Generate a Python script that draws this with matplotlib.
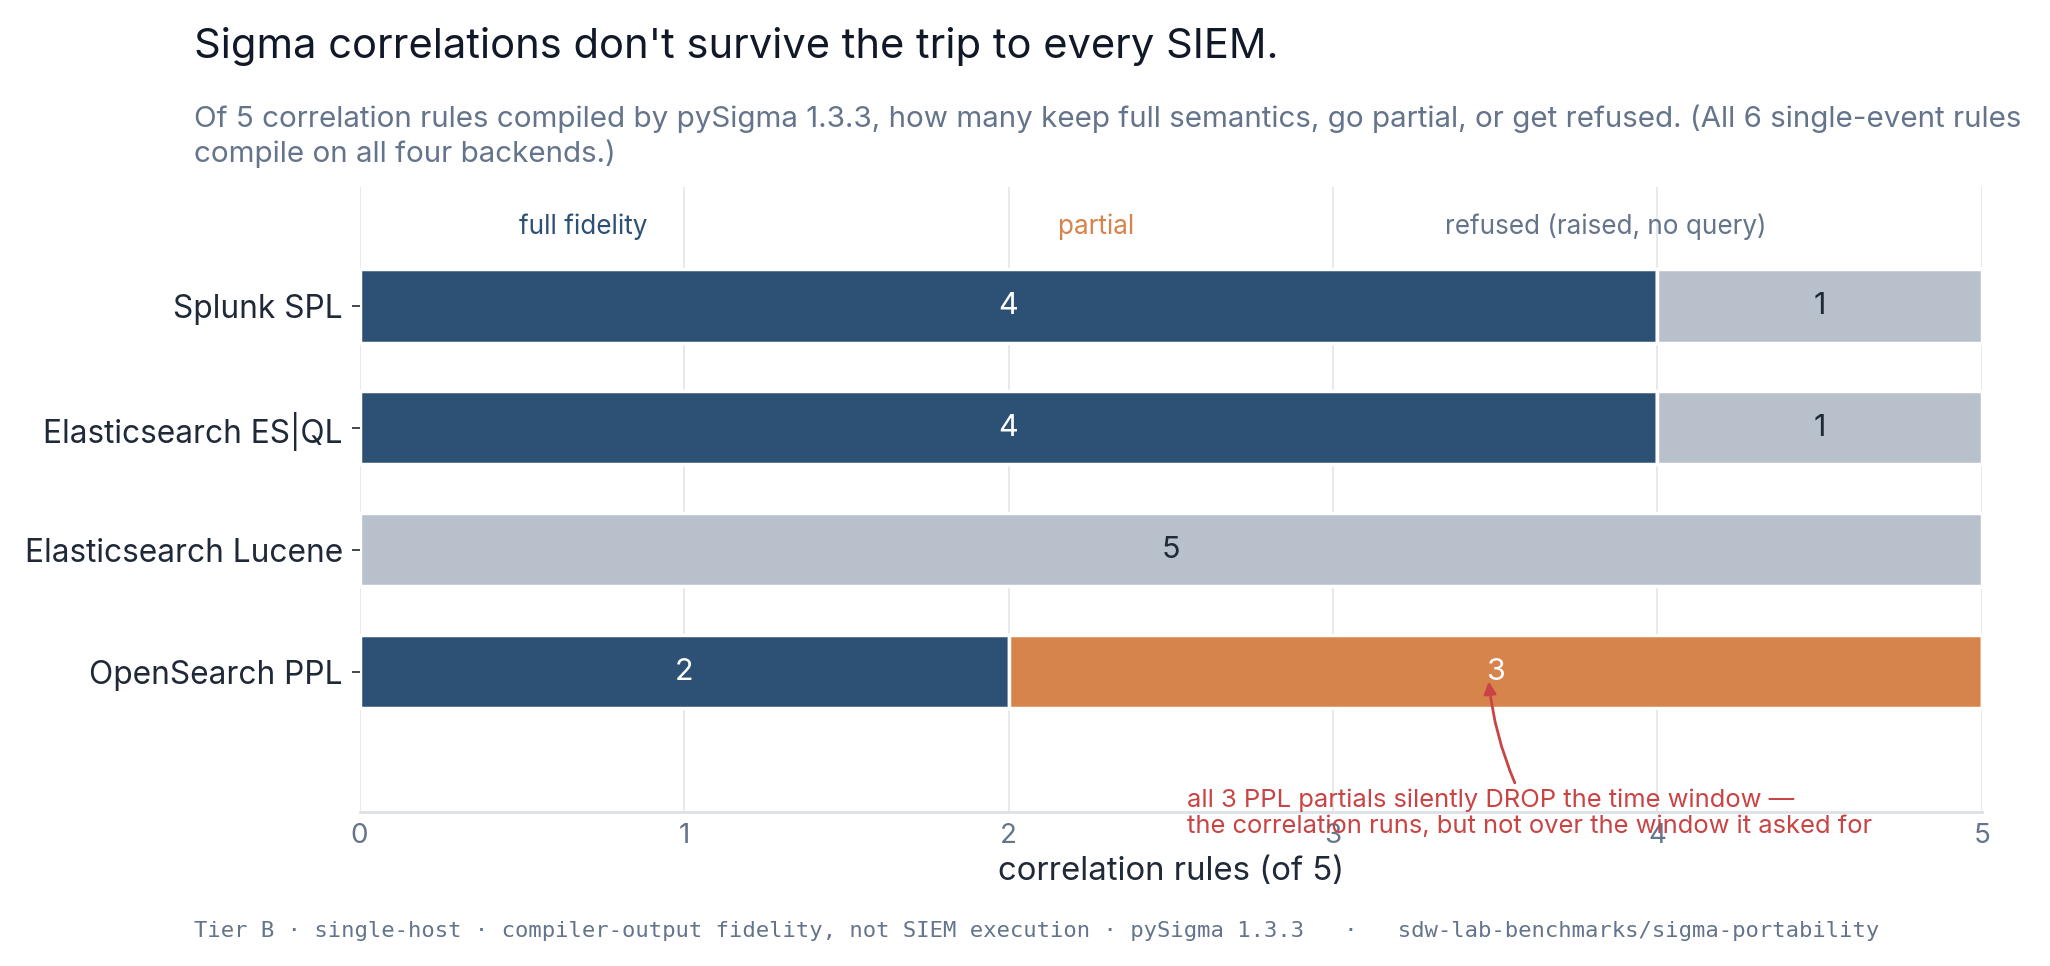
import matplotlib
matplotlib.use("Agg")
import matplotlib.pyplot as plt
import numpy as np

backends = ["Splunk SPL", "Elasticsearch ES|QL", "Elasticsearch Lucene", "OpenSearch PPL"]
full_fidelity = [4, 4, 0, 2]
partial = [0, 0, 0, 3]
refused = [1, 1, 5, 0]

series = [
    ("full fidelity", full_fidelity, "#2d5174", "white"),
    ("partial", partial, "#d6834c", "white"),
    ("refused (raised, no query)", refused, "#b8c0cb", "#1f2937"),
]

plt.rcParams['font.family'] = ['Inter', 'DejaVu Sans']

fig = plt.figure(figsize=(20.5, 9.66), dpi=100)
ax = fig.add_axes([0.1754, 0.1594, 0.7914, 0.647])

y = np.arange(len(backends))
left = np.zeros(len(backends))
for name, vals, color, txt_color in series:
    vals = np.array(vals, dtype=float)
    ax.barh(y, vals, left=left, height=0.6, color=color,
            edgecolor="white", linewidth=2.5, zorder=3)
    for i, v in enumerate(vals):
        if v > 0:
            ax.text(left[i] + v / 2, y[i], "{:g}".format(v), ha="center", va="center",
                    color=txt_color, fontsize=22, zorder=4)
    left += vals

ax.set_xlim(0, 5)
ax.set_ylim(4.15, -0.975)
ax.set_yticks(y)
ax.set_yticklabels(backends, fontsize=22.8, color="#1f2937")
ax.set_xticks(range(0, 6))
ax.tick_params(axis="x", length=0, labelsize=20, labelcolor="#64748b", pad=8)
ax.tick_params(axis="y", length=6, width=1.2, color="#1f2937", pad=6)
ax.grid(axis="x", color="#e5e7eb", linewidth=1.3, zorder=0)
ax.set_axisbelow(True)
for s in ["top", "right", "left"]:
    ax.spines[s].set_visible(False)
ax.spines["bottom"].set_color("#dde1e6")
ax.spines["bottom"].set_linewidth(2)
ax.set_xlabel("correlation rules (of 5)", fontsize=23.7, color="#1f2937", labelpad=5)

# legend as coloured labels across the top
legend_x = [0.138, 0.454, 0.768]
for (name, vals, color, _), lx in zip(series, legend_x):
    c = "#64748b" if name.startswith("refused") else color
    ax.text(lx, 0.936, name, transform=ax.transAxes, ha="center", va="center",
            fontsize=18.8, color=c)

ax.annotate("all 3 PPL partials silently DROP the time window \u2014\n"
            "the correlation runs, but not over the window it asked for",
            xy=(3.48, 3.08), xytext=(2.55, 4.16), ha="left", va="center",
            fontsize=18.4, color="#c94444", annotation_clip=False, linespacing=1.2,
            arrowprops=dict(arrowstyle="-|>", color="#c94444", lw=2,
                            mutation_scale=18, connectionstyle="arc3,rad=-0.1",
                            shrinkA=2, shrinkB=0),
            zorder=5)

fig.text(0.0944, 0.952, "Sigma correlations don't survive the trip to every SIEM.",
         ha="left", va="center", fontsize=30, color="#111827")
fig.text(0.0944, 0.859, "Of 5 correlation rules compiled by pySigma 1.3.3, how many keep full semantics, "
         "go partial, or get refused. (All 6 single-event rules\ncompile on all four backends.)",
         ha="left", va="center", fontsize=21.3, color="#64748b", linespacing=1.3)
fig.text(0.0944, 0.036, "Tier B \u00b7 single-host \u00b7 compiler-output fidelity, not SIEM execution \u00b7 "
         "pySigma 1.3.3   \u00b7   sdw-lab-benchmarks/sigma-portability",
         ha="left", va="center", fontsize=16, color="#64748b", family="DejaVu Sans Mono")

fig.savefig("out.png", dpi=100)
